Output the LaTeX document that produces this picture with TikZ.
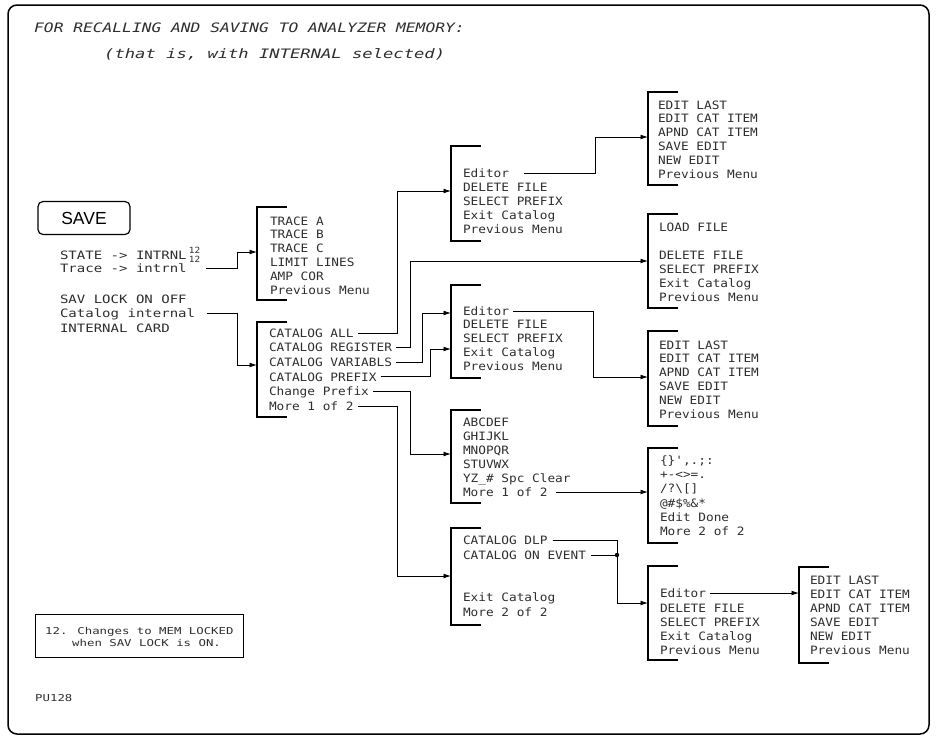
\documentclass[tikz,border=0pt]{standalone}
\usepackage{fontspec}
\newfontfamily\mf[FakeStretch=1.11]{DejaVu Sans Mono}
\newfontfamily\lf[FakeStretch=1.22]{DejaVu Sans Mono}
\newfontfamily\ff[FakeStretch=1.30]{DejaVu Sans Mono}
\newfontfamily\tfa[FakeStretch=1.25]{DejaVu Sans Mono}
\newfontfamily\tfb[FakeStretch=1.32]{DejaVu Sans Mono}
\newfontfamily\sv{Liberation Sans}
\usetikzlibrary{arrows.meta,calc}
\definecolor{ink}{gray}{0.18}
\begin{document}
\begin{tikzpicture}[x=1pt,y=-1pt,
  mt/.style={anchor=west,inner sep=0pt,outer sep=0pt,text height=8.4pt,text depth=0pt,text=ink,font=\mf\fontsize{11.5pt}{12pt}\selectfont},
  lt/.style={mt,font=\lf\fontsize{11.5pt}{12pt}\selectfont},
  ft/.style={anchor=west,inner sep=0pt,text height=6.9pt,text depth=0pt,text=ink,font=\ff\fontsize{9.5pt}{10pt}\selectfont},
  supt/.style={anchor=west,inner sep=0pt,text height=6.2pt,text depth=0pt,text=ink,font=\mf\fontsize{8.5pt}{9pt}\selectfont},
  ttl/.style={anchor=west,inner sep=0pt,text height=9.5pt,text depth=0pt,text=ink},
  brkbox/.style={minimum width=30pt,inner sep=0pt,outer sep=0pt,anchor=north west},
  brk/.style={line width=1.6pt},
  conn/.style={line width=0.8pt},
  arr/.style={conn,-{Latex[length=7.5pt,width=4.8pt]}},
]
\useasboundingbox (0,0) rectangle (936,740);
% frame
\draw[line width=1.5pt,rounded corners=9pt] (8,5) rectangle (929,734);

% title
\node[ttl,font=\tfa\itshape\fontsize{13pt}{14pt}\selectfont] (title1) at (34,27.5) {FOR RECALLING AND SAVING TO ANALYZER MEMORY:};
\node[ttl,font=\tfb\itshape\fontsize{13pt}{14pt}\selectfont] (title2) at (104,54) {(that is, with INTERNAL selected)};

% SAVE key
\node[draw,rounded corners=5pt,line width=1.2pt,minimum width=92pt,minimum height=33pt,inner sep=0pt,font=\sv\fontsize{17.5pt}{18pt}\selectfont] (save) at (84,218) {SAVE};

% left softkeys
\node[lt] (st) at (60,255) {STATE -> INTRNL};
\node[supt] (s1) at ([xshift=2pt,yshift=5pt]st.east) {12};
\node[lt] (tr) at (60,268) {Trace -> intrnl};
\node[supt] (s2) at ([xshift=2pt,yshift=9pt]tr.east) {12};
\node[lt] (sl) at (60,299) {SAV LOCK ON OFF};
\node[lt] (ci) at (60,313.5) {Catalog internal};
\node[lt] (ic) at (60,328) {INTERNAL CARD};

% bracket boxes
\node[brkbox,minimum height=93pt] (mT) at (257,207) {};
\node[brkbox,minimum height=95pt] (mCat) at (257,322) {};
\node[brkbox,minimum height=95pt] (mA) at (451,146) {};
\node[brkbox,minimum height=93pt] (mB) at (451,285) {};
\node[brkbox,minimum height=93pt] (mAB) at (451,410) {};
\node[brkbox,minimum height=97pt] (mD) at (451,528) {};
\node[brkbox,minimum height=93pt] (mE1) at (648,92) {};
\node[brkbox,minimum height=94pt] (mL) at (648,214) {};
\node[brkbox,minimum height=95pt] (mE2) at (648,331) {};
\node[brkbox,minimum height=95pt] (mS) at (648,448) {};
\node[brkbox,minimum height=94pt] (mF) at (648,566) {};
\node[brkbox,minimum height=96pt] (mG) at (799,567) {};
\foreach \m in {mT,mCat,mA,mB,mAB,mD,mE1,mL,mE2,mS,mF,mG}
  \draw[brk] (\m.north east) -- (\m.north west) -- (\m.south west) -- (\m.south east);

% trace menu
\node[mt] (tA) at (270,221) {TRACE A};
\node[mt] (tB) at (270,234.5) {TRACE B};
\node[mt] (tC) at (270,248) {TRACE C};
\node[mt] (tL) at (270,262) {LIMIT LINES};
\node[mt] (tAmp) at (270,276) {AMP COR};
\node[mt] (tPrev) at (270,290) {Previous Menu};

% catalog menu
\node[mt] (cAll) at (269,333) {CATALOG ALL};
\node[mt] (cReg) at (269,347.6) {CATALOG REGISTER};
\node[mt] (cVar) at (269,362.2) {CATALOG VARIABLS};
\node[mt] (cPre) at (269,376.8) {CATALOG PREFIX};
\node[mt] (cChg) at (269,391.4) {Change Prefix};
\node[mt] (cMore) at (269,406) {More 1 of 2};

% menu A
\node[mt] (aEd) at (463,173) {Editor};
\node[mt] (aDel) at (463,187) {DELETE FILE};
\node[mt] (aSel) at (463,201) {SELECT PREFIX};
\node[mt] (aExit) at (463,215) {Exit Catalog};
\node[mt] (aPrev) at (463,229) {Previous Menu};

% menu B
\node[mt] (bEd) at (463,311) {Editor};
\node[mt] (bDel) at (463,324.5) {DELETE FILE};
\node[mt] (bSel) at (463,338.5) {SELECT PREFIX};
\node[mt] (bExit) at (463,352) {Exit Catalog};
\node[mt] (bPrev) at (463,366.5) {Previous Menu};

% alphabet menu
\node[mt] (abA) at (463,422) {ABCDEF};
\node[mt] (abG) at (463,436) {GHIJKL};
\node[mt] (abM) at (463,450) {MNOPQR};
\node[mt] (abS) at (463,464) {STUVWX};
\node[mt] (abY) at (463,478) {YZ\_\# Spc Clear};
\node[mt] (abMore) at (463,492) {More 1 of 2};

% menu D
\node[mt] (dDlp) at (463,540) {CATALOG DLP};
\node[mt] (dOn) at (463,555) {CATALOG ON EVENT};
\node[mt] (dExit) at (463,597) {Exit Catalog};
\node[mt] (dMore) at (463,612) {More 2 of 2};

% menu E1
\node[mt] (e1a) at (658,105) {EDIT LAST};
\node[mt] (e1b) at (658,118.5) {EDIT CAT ITEM};
\node[mt] (e1c) at (658,132) {APND CAT ITEM};
\node[mt] (e1d) at (658,146) {SAVE EDIT};
\node[mt] (e1e) at (658,160) {NEW EDIT};
\node[mt] (e1f) at (658,174) {Previous Menu};

% load menu
\node[mt] (lLoad) at (659,227) {LOAD FILE};
\node[mt] (lDel) at (659,255) {DELETE FILE};
\node[mt] (lSel) at (659,269) {SELECT PREFIX};
\node[mt] (lExit) at (659,283) {Exit Catalog};
\node[mt] (lPrev) at (659,297.5) {Previous Menu};

% menu E2
\node[mt] (e2a) at (659,345) {EDIT LAST};
\node[mt] (e2b) at (659,358.5) {EDIT CAT ITEM};
\node[mt] (e2c) at (659,372.5) {APND CAT ITEM};
\node[mt] (e2d) at (659,386) {SAVE EDIT};
\node[mt] (e2e) at (659,400) {NEW EDIT};
\node[mt] (e2f) at (659,414) {Previous Menu};

% symbols menu
\node[mt] (sa) at (660,460) {\{\}',.;:};
\node[mt] (sb) at (660,474) {+-<>=.};
\node[mt] (sc) at (660,488) {/?\textbackslash[]};
\node[mt] (sd) at (660,503) {@\#\$\%\&*};
\node[mt] (se) at (660,517) {Edit Done};
\node[mt] (sf) at (660,531) {More 2 of 2};

% menu F
\node[mt] (fEd) at (660,593) {Editor};
\node[mt] (fDel) at (660,608) {DELETE FILE};
\node[mt] (fSel) at (660,622) {SELECT PREFIX};
\node[mt] (fExit) at (660,636) {Exit Catalog};
\node[mt] (fPrev) at (660,650) {Previous Menu};

% menu G
\node[mt] (ga) at (810,580) {EDIT LAST};
\node[mt] (gb) at (810,594) {EDIT CAT ITEM};
\node[mt] (gc) at (810,608) {APND CAT ITEM};
\node[mt] (gd) at (810,622) {SAVE EDIT};
\node[mt] (ge) at (810,636) {NEW EDIT};
\node[mt] (gf) at (810,650) {Previous Menu};

% footnote and id
\node[draw,line width=1pt,minimum width=208pt,minimum height=43pt,inner sep=0pt,anchor=north west] (fn) at (35,614) {};
\node[ft] (fn1) at (45,631) {12. Changes to MEM LOCKED};
\node[ft] (fn2) at (72,643) {when SAV LOCK is ON.};
\node[ft] (pu) at (35,698) {PU128};

% entry points and guide lines
\coordinate (mTin) at ($(mT.north west)+(0,45)$);
\coordinate (mCatin) at ($(mCat.north west)+(0,43)$);
\coordinate (mAin) at ($(mA.north west)+(0,45)$);
\coordinate (mBin1) at ($(mB.north west)+(0,28)$);
\coordinate (mBin2) at ($(mB.north west)+(0,64)$);
\coordinate (mABin) at ($(mAB.north west)+(0,44)$);
\coordinate (mDin) at ($(mD.north west)+(0,48)$);
\coordinate (mE1in) at ($(mE1.north west)+(0,45)$);
\coordinate (mLin) at ($(mL.north west)+(0,47)$);
\coordinate (mE2in) at ($(mE2.north west)+(0,46)$);
\coordinate (mFin) at ($(mF.north west)+(0,37)$);
\coordinate (gL) at (237,0);
\coordinate (gAll) at (397,0);
\coordinate (gReg) at (410,0);
\coordinate (gVar) at (422,0);
\coordinate (gPre) at (430,0);
\coordinate (gAEd) at (595,0);
\coordinate (gBEd) at (593,0);
\coordinate (jn) at (617,555);

% connectors
\draw[arr] ($(s2.east |- tr.east)+(6,0)$) -| (gL |- mTin) -- (mTin);
\draw[arr] ($(ci.east)+(12,0)$) -| (gL |- mCatin) -- (mCatin);
\draw[arr] ([xshift=4pt]cAll.east) -| (gAll |- mAin) -- (mAin);
\draw[arr] ([xshift=4pt]cReg.east) -| (gReg |- mLin) -- (mLin);
\draw[arr] ([xshift=4pt]cVar.east) -| (gVar |- mBin1) -- (mBin1);
\draw[arr] ([xshift=4pt]cPre.east) -| (gPre |- mBin2) -- (mBin2);
\draw[arr] ([xshift=4pt]cChg.east) -| (gReg |- mABin) -- (mABin);
\draw[arr] ([xshift=4pt]cMore.east) -| (gAll |- mDin) -- (mDin);
\draw[arr] ([xshift=15pt]aEd.east) -| (gAEd |- mE1in) -- (mE1in);
\draw[arr] ([xshift=4pt]bEd.east) -| (gBEd |- mE2in) -- (mE2in);
\draw[arr] ([xshift=8pt]abMore.east) -- (abMore.east -| mS.west);
\draw[conn] ([xshift=5pt]dDlp.east) -| (jn);
\draw[conn] ([xshift=5pt]dOn.east) -- (jn);
\fill (jn) circle (2.2pt);
\draw[arr] (jn) |- (mFin);
\draw[arr] ([xshift=4pt]fEd.east) -- (fEd.east -| mG.west);
\end{tikzpicture}
\end{document}
